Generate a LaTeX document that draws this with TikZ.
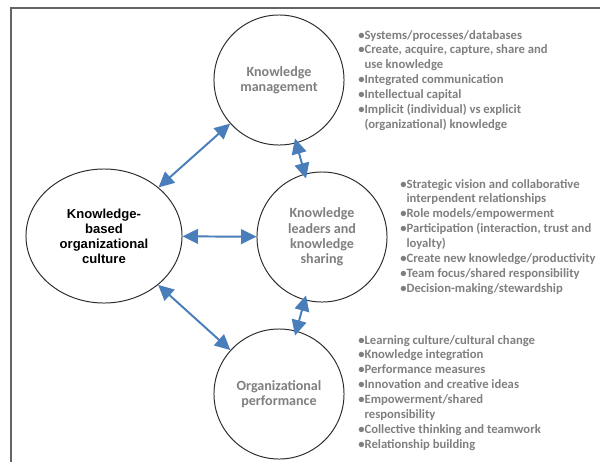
\documentclass[tikz,border=0pt]{standalone}
\usepackage{fontspec}
\setmainfont{Carlito}
\newfontfamily\arialfont{Liberation Sans}
\usetikzlibrary{arrows.meta,shapes.geometric}

\definecolor{linkblue}{RGB}{74,126,187}
\definecolor{notegray}{RGB}{127,127,127}
\definecolor{rimgray}{RGB}{45,45,45}
\definecolor{framegray}{RGB}{100,100,100}

\newcommand{\bul}[1]{\textbullet&#1\\}
\newcommand{\cont}[1]{&#1\\}

\tikzset{
  topic/.style={circle, draw=rimgray, line width=0.7pt, minimum size=3.25cm,
    inner sep=0pt, align=center, text=notegray,
    font=\bfseries\fontsize{10}{11}\selectfont},
  core/.style={ellipse, draw=rimgray, line width=0.7pt, minimum width=3.9cm,
    minimum height=3.35cm, inner sep=0pt, align=center,
    font=\arialfont\bfseries\fontsize{9.3}{10.7}\selectfont},
  notes/.style={anchor=base west, inner sep=0pt, text=notegray,
    font=\bfseries\fontsize{9}{10.6}\selectfont},
  link/.style={linkblue, line width=1.4pt,
    {Triangle[length=11pt,width=10.5pt]}-{Triangle[length=11pt,width=10.5pt]}},
  shortlink/.style={link, shorten <=-3.5pt, shorten >=-3.5pt}
}

\begin{document}
\begin{tikzpicture}[x=0.025cm,y=-0.025cm]
    \useasboundingbox (0,0) rectangle (600,462);
    \draw[framegray, line width=1pt] (11,462) -- (11,8) -- (600,8);

    % circles
    \node[core] (culture) at (104,236) {Knowledge-\\based\\organizational\\culture};
    \node[topic] (km) at (279,80) {Knowledge\\management};
    \node[topic] (lead) at (322,237) {Knowledge\\leaders and\\knowledge\\sharing};
    \node[topic] (perf) at (279,394) {Organizational\\performance};

    % links
    \draw[link] (culture) -- (km);
    \draw[shortlink] (km) -- (lead);
    \draw[link] (culture) -- (lead);
    \draw[link] (culture) -- (perf);
    \draw[shortlink] (perf) -- (lead);

    % lists
    \node[notes] (kmnotes) at (358,39) {\begin{tabular}[t]{@{}l@{}l@{}}
        \bul{Systems/processes/databases}
        \bul{Create, acquire, capture, share and}
        \cont{ use knowledge}
        \bul{Integrated communication}
        \bul{Intellectual capital}
        \bul{Implicit (individual) vs explicit}
        \cont{ (organizational) knowledge}
    \end{tabular}};
    \node[notes] (leadnotes) at (400,188) {\begin{tabular}[t]{@{}l@{}l@{}}
        \bul{Strategic vision and collaborative}
        \cont{ interpendent relationships}
        \bul{Role models/empowerment}
        \bul{Participation (interaction, trust and}
        \cont{ loyalty)}
        \bul{Create new knowledge/productivity}
        \bul{Team focus/shared responsibility}
        \bul{Decision-making/stewardship}
    \end{tabular}};
    \node[notes] (perfnotes) at (358,344) {\begin{tabular}[t]{@{}l@{}l@{}}
        \bul{Learning culture/cultural change}
        \bul{Knowledge integration}
        \bul{Performance measures}
        \bul{Innovation and creative ideas}
        \bul{Empowerment/shared}
        \cont{ responsibility}
        \bul{Collective thinking and teamwork}
        \bul{Relationship building}
    \end{tabular}};
\end{tikzpicture}
\end{document}
